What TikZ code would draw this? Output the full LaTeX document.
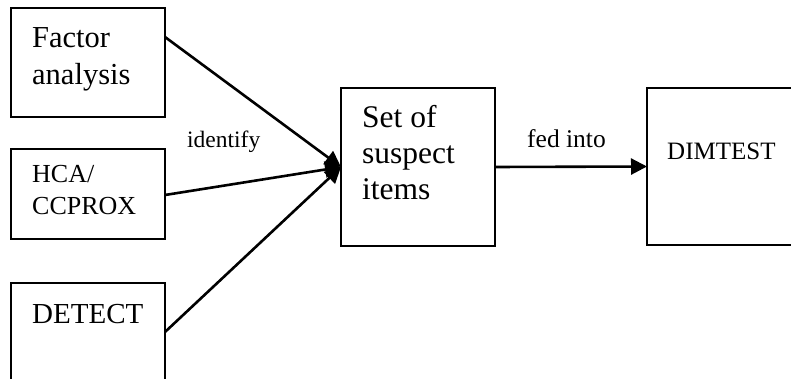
\documentclass[tikz,border=0pt]{standalone}
\usepackage{fontspec}
\setmainfont{Liberation Serif}
\usetikzlibrary{arrows.meta}
\newcommand{\blk}[3]{{\fontsize{#1}{#2}\selectfont\begin{tabular}[t]{@{}l@{}}#3\end{tabular}}}
\begin{document}
\begin{tikzpicture}[x=1pt,y=-1pt,
  box/.style={draw, line width=2.3pt, outer sep=0pt, inner sep=0pt, anchor=north west},
  lbl/.style={anchor=base west, inner sep=0pt},
  conn/.style={line width=2.6pt, -{Triangle[length=16pt,width=16pt]}}]
\clip (0,0) rectangle (791,379);
\fill[white] (0,0) rectangle (791,379);
% boxes
\node[box, minimum width=154pt, minimum height=109pt] (fa) at (11,8) {};
\node[box, minimum width=154pt, minimum height=90pt] (hca) at (11,149) {};
\node[box, minimum width=154pt, minimum height=98pt] (det) at (11,283) {};
\node[box, minimum width=154pt, minimum height=158pt] (set) at (341,88) {};
\node[box, minimum width=152pt, minimum height=157pt] (dim) at (647,88) {};
% texts
\node[lbl] (tfa) at (32,48) {\blk{30.5}{37}{Factor\\analysis}};
\node[lbl] (thca) at (32,183) {\blk{26}{32}{HCA/\\CCPROX}};
\node[lbl] (tdet) at (32,323) {\blk{29}{34}{DETECT}};
\node[lbl] (tset) at (362,128) {\blk{31.5}{36}{Set of\\suspect\\items}};
\node[lbl] (tdim) at (667,160) {\blk{25}{30}{DIMTEST}};
\node[lbl] (tid) at (187,148) {\blk{23.5}{28}{identify}};
\node[lbl] (tfed) at (527,148) {\blk{25.5}{30}{fed into}};
% connectors
\coordinate (s1) at ([yshift=25.5pt]fa.east);
\coordinate (s2) at ([yshift=-1pt]hca.east);
\coordinate (s3) at (det.east |- 0,332);
\draw[conn] (s1) -- (set.west);
\draw[conn] (s2) -- (set.west);
\draw[conn] (s3) -- (set.west);
\draw[conn] (set.east) -- (dim.west);
\end{tikzpicture}
\end{document}
